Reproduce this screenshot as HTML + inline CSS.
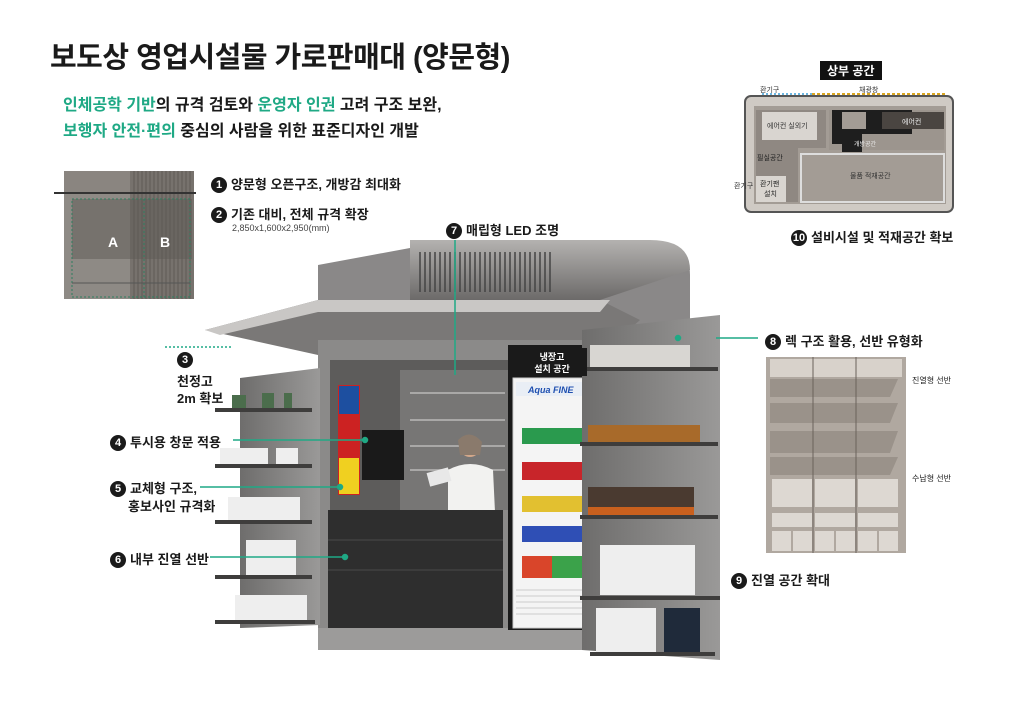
<!DOCTYPE html>
<html><head><meta charset="utf-8"><style>
*{margin:0;padding:0;box-sizing:border-box}
body{width:1024px;height:707px;background:#fff;position:relative;overflow:hidden;font-family:"Liberation Sans","Noto Sans CJK KR",sans-serif;color:#1a1a1a}
.a{position:absolute;white-space:nowrap}
.t{font-weight:bold}
.g{color:#1fa985}
.n{display:inline-block;width:16px;height:16px;border-radius:50%;background:#1a1a1a;color:#fff;font-size:11px;text-align:center;line-height:16px;font-weight:bold;margin-right:4px;vertical-align:1px}
.lb{font-size:13px;font-weight:bold}
</style></head><body>
<div class="a t" style="left:50px;top:34px;font-size:29px;letter-spacing:-0.5px">보도상 영업시설물 가로판매대 (양문형)</div>
<div class="a t" style="left:63px;top:91px;font-size:16px"><span class="g">인체공학 기반</span>의 규격 검토와 <span class="g">운영자 인권</span> 고려 구조 보완,</div>
<div class="a t" style="left:63px;top:117px;font-size:16px"><span class="g">보행자 안전·편의</span> 중심의 사람을 위한 표준디자인 개발</div>

<!-- small left diagram -->
<svg class="a" style="left:50px;top:165px" width="150" height="140">
<rect x="14" y="6" width="130" height="22" fill="#8a8580"/>
<rect x="14" y="28" width="130" height="106" fill="#8e8a85"/>
<rect x="80" y="6" width="64" height="128" fill="#77726d"/>
<g stroke="#5f5a55" stroke-width="1">
<path d="M84 6V134M88 6V134M92 6V134M96 6V134M100 6V134M104 6V134M108 6V134M112 6V134M116 6V134M120 6V134M124 6V134M128 6V134M132 6V134M136 6V134M140 6V134"/></g>
<rect x="22" y="34" width="120" height="60" fill="#5e5a56" opacity=".5"/>
<line x1="4" y1="28" x2="146" y2="28" stroke="#333" stroke-width="2"/>
<rect x="22" y="34" width="118" height="98" fill="none" stroke="#2d7d60" stroke-dasharray="2 2"/>
<line x1="94" y1="34" x2="94" y2="132" stroke="#2d7d60" stroke-dasharray="2 2"/>
<line x1="22" y1="118" x2="140" y2="118" stroke="#555"/>
<text x="58" y="82" fill="#fff" font-size="14" font-weight="bold">A</text>
<text x="110" y="82" fill="#fff" font-size="14" font-weight="bold">B</text>
</svg>

<div class="a lb" style="left:211px;top:174px"><span class="n">1</span>양문형 오픈구조, 개방감 최대화</div>
<div class="a lb" style="left:211px;top:204px"><span class="n">2</span>기존 대비, 전체 규격 확장</div>
<div class="a" style="left:232px;top:223px;font-size:9px;color:#444">2,850x1,600x2,950(mm)</div>
<div class="a lb" style="left:446px;top:220px"><span class="n">7</span>매립형 LED 조명</div>

<!-- top right diagram -->
<div class="a t" style="left:820px;top:61px;background:#111;color:#fff;font-size:12px;padding:1px 7px">상부 공간</div>
<svg class="a" style="left:732px;top:82px" width="230" height="140">
<rect x="13" y="14" width="208" height="116" rx="6" fill="#cfcac4" stroke="#555" stroke-width="2"/>
<rect x="22" y="24" width="192" height="98" fill="#a39c95"/>
<rect x="24" y="28" width="70" height="38" fill="#8f8882"/>
<rect x="30" y="30" width="55" height="28" fill="#d9d5d0"/>
<rect x="97" y="28" width="115" height="40" fill="#9c958e"/>
<path d="M100 28H180V52H130V70H110V62H100Z" fill="#1e1e1e"/>
<rect x="110" y="30" width="24" height="17" fill="#a39c95"/>
<rect x="150" y="30" width="62" height="17" fill="#4a4541"/>
<rect x="24" y="66" width="42" height="54" fill="#8f8882"/>
<rect x="69" y="72" width="143" height="48" fill="#a39c95" stroke="#ddd" stroke-width="2"/>
<rect x="24" y="94" width="30" height="26" fill="#d9d5d0"/>
<line x1="30" y1="12" x2="80" y2="12" stroke="#6bb5e0" stroke-width="2" stroke-dasharray="2 2"/>
<line x1="80" y1="12" x2="215" y2="12" stroke="#d9a520" stroke-width="2" stroke-dasharray="3 2"/>
<text x="28" y="10" font-size="7" fill="#333">환기구</text>
<text x="127" y="10" font-size="7" fill="#333">채광창</text>
<text x="35" y="46" font-size="7" fill="#333">에어컨 실외기</text>
<text x="170" y="42" font-size="7" fill="#eee">에어컨</text>
<text x="25" y="78" font-size="7" fill="#222">필실공간</text>
<text x="28" y="104" font-size="7" fill="#222">환기팬</text>
<text x="32" y="114" font-size="7" fill="#222">설치</text>
<text x="122" y="64" font-size="6" fill="#eee">개방공간</text>
<text x="118" y="96" font-size="7" fill="#333">물품 적재공간</text>
<text x="2" y="106" font-size="7" fill="#333">환기구</text>
</svg>
<div class="a lb" style="left:791px;top:227px"><span class="n">10</span>설비시설 및 적재공간 확보</div>

<!-- kiosk -->
<svg class="a" style="left:0;top:0" width="1024" height="707">
<defs>
<linearGradient id="roof" x1="0" y1="0" x2="0" y2="1"><stop offset="0" stop-color="#b4b2b0"/><stop offset="1" stop-color="#6c6a69"/></linearGradient>
<linearGradient id="panel" x1="0" y1="0" x2="1" y2="0"><stop offset="0" stop-color="#6e6d6c"/><stop offset="1" stop-color="#9a9998"/></linearGradient>
</defs>
<!-- top box -->
<path d="M318 265L410 248H660Q690 248 690 275V330H318Z" fill="#8a8888"/>
<path d="M410 240H650Q690 240 690 270L600 300H410Z" fill="url(#roof)"/>
<g stroke="#444" stroke-width="1.5"><path d="M420 252V292M425 252V292M430 252V292M435 252V292M440 252V292M445 252V292M450 252V292M455 252V292M460 252V292M465 252V292M470 252V292M475 252V292M480 252V292M485 252V292M490 252V292M495 252V292M500 252V292M505 252V292M510 252V292M515 252V292M520 252V292M525 252V292M530 252V292M535 252V292M540 252V292M545 252V292M550 252V292"/></g>
<!-- overhang -->
<path d="M205 330L318 300H600L640 320L600 355H318Z" fill="#7a7877"/>
<path d="M205 330L318 300H610L600 312H318L220 335Z" fill="#c9c7c5"/>
<!-- main body -->
<rect x="318" y="340" width="290" height="310" fill="#8b8a89"/>
<rect x="330" y="360" width="180" height="150" fill="#5d5c5b"/>
<rect x="400" y="370" width="110" height="140" fill="#777675"/>
<rect x="362" y="430" width="42" height="50" fill="#1a1a1a"/>
<rect x="338" y="385" width="22" height="110" fill="#c22"/>
<rect x="339" y="386" width="20" height="28" fill="#1d4fa0"/>
<rect x="339" y="458" width="20" height="36" fill="#f0d020"/>
<g stroke="#a9a8a7" stroke-width="2"><path d="M410 393H505M410 420H505M410 446H505M410 470H505"/></g>
<!-- person -->
<circle cx="470" cy="447" r="10" fill="#d4a88a"/>
<path d="M458 440Q470 428 482 442L480 455H460Z" fill="#8a7a6c"/>
<path d="M448 470Q470 458 493 470L495 512H448Z" fill="#f2f2f0"/>
<rect x="428" y="470" width="22" height="14" fill="#e8e8e8" transform="rotate(-15 439 477)"/>
<!-- counter -->
<rect x="328" y="510" width="175" height="118" fill="#2e2e2e"/>
<g stroke="#4a4a4a"><path d="M328 540H503M328 570H503"/></g>
<rect x="318" y="628" width="290" height="22" fill="#9c9b9a"/>
<!-- fridge -->
<rect x="508" y="345" width="88" height="285" fill="#1a1a1a"/>
<rect x="513" y="378" width="78" height="250" fill="#f4f4f4" stroke="#ccc"/>
<rect x="516" y="382" width="72" height="14" fill="#e9eef5"/>
<text x="528" y="393" font-size="9" font-style="italic" font-weight="bold" fill="#1e4fb0">Aqua FINE</text>
<rect x="522" y="428" width="66" height="16" fill="#2a9a4e"/>
<rect x="522" y="462" width="66" height="18" fill="#c8252a"/>
<rect x="522" y="496" width="66" height="16" fill="#e2c030"/>
<rect x="522" y="526" width="66" height="16" fill="#2f4fb5"/>
<rect x="522" y="556" width="66" height="22" fill="#3ba24a"/>
<rect x="522" y="556" width="30" height="22" fill="#d9452a"/>
<g stroke="#ccc"><path d="M516 590H588M516 596H588M516 602H588M516 608H588M516 614H588"/></g>
<!-- left wing -->
<path d="M240 378L320 368V625L240 628Z" fill="url(#panel)"/>
<g fill="#3e3d3c"><rect x="215" y="408" width="97" height="4"/><rect x="215" y="464" width="97" height="4"/><rect x="215" y="520" width="97" height="4"/><rect x="215" y="575" width="97" height="4"/><rect x="215" y="620" width="100" height="4"/></g>
<g fill="#4b6d4c"><rect x="232" y="395" width="14" height="13"/><rect x="262" y="393" width="12" height="15"/><rect x="284" y="393" width="8" height="15"/></g>
<g fill="#eee"><rect x="220" y="448" width="48" height="16"/><rect x="276" y="448" width="22" height="16"/><rect x="228" y="497" width="72" height="23"/><rect x="246" y="540" width="50" height="35"/><rect x="235" y="595" width="72" height="25"/></g>
<!-- right wing -->
<path d="M582 330L720 315V660L582 650Z" fill="url(#panel)"/>
<g fill="#3e3d3c"><rect x="580" y="367" width="138" height="4"/><rect x="580" y="442" width="138" height="4"/><rect x="580" y="515" width="138" height="4"/><rect x="580" y="596" width="140" height="4"/><rect x="590" y="652" width="125" height="4"/></g>
<g fill="#d8d6d2"><rect x="590" y="345" width="100" height="22"/></g>
<g fill="#a86a2a"><rect x="588" y="425" width="112" height="17"/></g>
<g fill="#4a3a30"><rect x="588" y="487" width="106" height="28"/></g>
<g fill="#c9601e"><rect x="588" y="507" width="106" height="8"/></g>
<g fill="#eee"><rect x="600" y="545" width="95" height="50"/><rect x="596" y="608" width="60" height="44"/></g>
<rect x="664" y="608" width="36" height="44" fill="#1f2a3a"/>
<!-- connectors -->
<g stroke="#1fa985" stroke-width="1.5" fill="#1fa985">
<line x1="455" y1="240" x2="455" y2="375"/>
<line x1="233" y1="440" x2="365" y2="440"/><circle cx="365" cy="440" r="2.5"/>
<line x1="200" y1="487" x2="340" y2="487"/><circle cx="340" cy="487" r="2.5"/>
<line x1="210" y1="557" x2="345" y2="557"/><circle cx="345" cy="557" r="2.5"/>
<line x1="716" y1="338" x2="758" y2="338"/><circle cx="678" cy="338" r="2.5"/>
<line x1="165" y1="347" x2="232" y2="347" stroke-dasharray="2 2"/>
</g>
<rect x="517" y="348" width="70" height="28" fill="#1a1a1a"/>
<text x="552" y="360" font-size="9" font-weight="bold" fill="#fff" text-anchor="middle">냉장고</text>
<text x="552" y="372" font-size="9" font-weight="bold" fill="#fff" text-anchor="middle">설치 공간</text>
</svg>

<div class="a lb" style="left:177px;top:352px"><span class="n">3</span></div>
<div class="a lb" style="left:177px;top:373px;line-height:17px">천정고<br>2m 확보</div>
<div class="a lb" style="left:110px;top:432px"><span class="n">4</span>투시용 창문 적용</div>
<div class="a lb" style="left:110px;top:480px;line-height:18px"><span class="n">5</span>교체형 구조,<br>&nbsp;&nbsp;&nbsp;&nbsp;&nbsp;홍보사인 규격화</div>
<div class="a lb" style="left:110px;top:549px"><span class="n">6</span>내부 진열 선반</div>
<div class="a lb" style="left:765px;top:331px"><span class="n">8</span>렉 구조 활용, 선반 유형화</div>
<div class="a lb" style="left:731px;top:570px"><span class="n">9</span>진열 공간 확대</div>

<!-- rack diagram -->
<svg class="a" style="left:766px;top:357px" width="140" height="196">
<rect x="0" y="0" width="140" height="196" fill="#b0a8a0"/>
<rect x="4" y="2" width="132" height="18" fill="#d8d2cb"/>
<g fill="#9a928a"><path d="M4 22H132L124 40H4Z"/><path d="M4 46H132L124 66H4Z"/><path d="M4 74H132L124 96H4Z"/><path d="M4 100H132L124 118H4Z"/></g>
<g fill="#ddd8d2"><rect x="6" y="122" width="40" height="28"/><rect x="49" y="122" width="40" height="28"/><rect x="92" y="122" width="40" height="28"/><rect x="6" y="156" width="40" height="14"/><rect x="49" y="156" width="40" height="14"/><rect x="92" y="156" width="40" height="14"/><rect x="6" y="174" width="19" height="20"/><rect x="27" y="174" width="19" height="20"/><rect x="49" y="174" width="19" height="20"/><rect x="70" y="174" width="19" height="20"/><rect x="92" y="174" width="19" height="20"/><rect x="113" y="174" width="19" height="20"/></g>
<g stroke="#6a625b"><path d="M47 0V196M90 0V196"/></g>
</svg>
<div class="a" style="left:912px;top:375px;font-size:8px">진열형 선반</div>
<div class="a" style="left:912px;top:473px;font-size:8px">수납형 선반</div>
</body></html>
